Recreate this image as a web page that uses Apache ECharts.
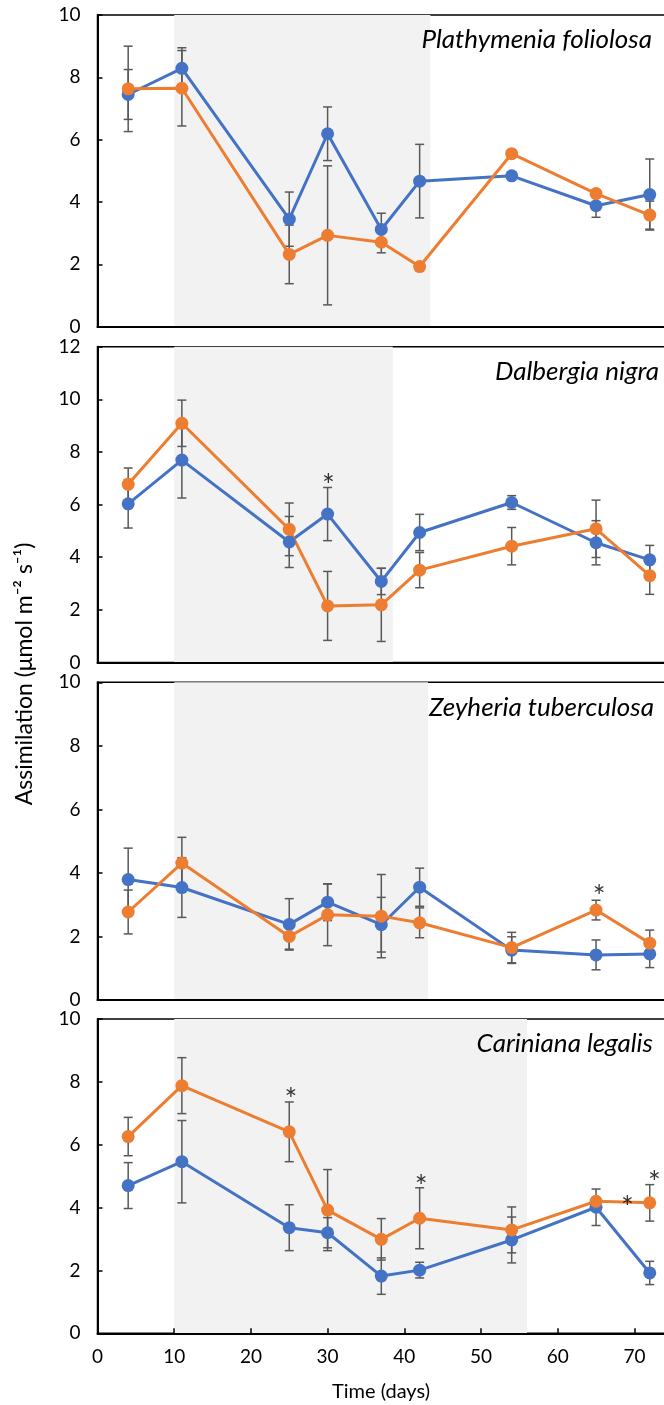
<!DOCTYPE html>
<html>
<head>
<meta charset="utf-8">
<script src="https://cdn.jsdelivr.net/npm/echarts@6/dist/echarts.min.js"></script>
<style>
  html, body { margin: 0; padding: 0; background: #fff; }
  #chart { width: 664px; height: 1405px; }
</style>
</head>
<body>
<div id="chart"></div>
<script>
// sampling days (x)
const days = [4, 11, 25, 30, 37, 42, 54, 65, 72];
const xTicks = [0, 10, 20, 30, 40, 50, 60, 70];

const species = ['Plathymenia foliolosa', 'Dalbergia nigra', 'Zeyheria tuberculosa', 'Cariniana legalis'];
const yMax = [10, 12, 10, 10];
const shadeStart = [10, 10, 10, 10];
const shadeEnd = [43.4, 38.5, 43.1, 56];

// Plathymenia foliolosa
const blue1 = [7.45, 8.29, 3.45, 6.19, 3.12, 4.67, 4.84, 3.88, 4.24];
const blueErr1 = [0.80, 0.66, 0.87, 0.86, 0.52, 1.18, 0.10, 0.37, 1.14];
const orange1 = [7.63, 7.65, 2.32, 2.93, 2.71, 1.93, 5.55, 4.27, 3.58];
const orangeErr1 = [1.37, 1.21, 0.94, 2.23, 0.34, 0.10, 0.10, 0.12, 0.45];
const stars1 = [];

// Dalbergia nigra
const blue2 = [6.03, 7.69, 4.58, 5.64, 3.08, 4.94, 6.08, 4.55, 3.90];
const blueErr2 = [0.92, 1.44, 0.97, 1.01, 0.50, 0.69, 0.26, 0.84, 0.55];
const orange2 = [6.77, 9.09, 5.06, 2.15, 2.19, 3.51, 4.42, 5.08, 3.30];
const orangeErr2 = [0.62, 0.88, 1.00, 1.31, 1.39, 0.67, 0.71, 1.09, 0.71];
const stars2 = [[30.1, 6.97]];

// Zeyheria tuberculosa
const blue3 = [3.79, 3.54, 2.38, 3.08, 2.37, 3.55, 1.57, 1.42, 1.45];
const blueErr3 = [0.99, 0.94, 0.81, 0.58, 0.86, 0.60, 0.42, 0.47, 0.43];
const orange3 = [2.77, 4.31, 2.00, 2.68, 2.64, 2.43, 1.65, 2.83, 1.79];
const orangeErr3 = [0.69, 0.81, 0.40, 0.97, 1.31, 0.47, 0.48, 0.31, 0.41];
const stars3 = [[65.4, 3.44]];

// Cariniana legalis
const blue4 = [4.70, 5.46, 3.36, 3.20, 1.82, 2.01, 2.97, 4.01, 1.92];
const blueErr4 = [0.73, 1.31, 0.73, 0.48, 0.58, 0.25, 0.73, 0.58, 0.37];
const orange4 = [6.26, 7.88, 6.41, 3.92, 2.99, 3.66, 3.29, 4.20, 4.15];
const orangeErr4 = [0.61, 0.89, 0.95, 1.29, 0.66, 0.97, 0.73, 0.10, 0.58];
const stars4 = [[25.2, 7.65], [42.2, 4.88], [69.1, 4.19], [72.6, 4.98]];

const panels = [
  { blue: blue1, blueErr: blueErr1, orange: orange1, orangeErr: orangeErr1, stars: stars1 },
  { blue: blue2, blueErr: blueErr2, orange: orange2, orangeErr: orangeErr2, stars: stars2 },
  { blue: blue3, blueErr: blueErr3, orange: orange3, orangeErr: orangeErr3, stars: stars3 },
  { blue: blue4, blueErr: blueErr4, orange: orange4, orangeErr: orangeErr4, stars: stars4 }
];

const BLUE = '#4472C4';
const ORANGE = '#ED7D31';
const FONT = 'Lato';

const gridTops = [15, 346.7, 682.3, 1019];
const gridHeights = [311.7, 315.8, 317.7, 314.3];
const titleRights = [7, 0, 5, 6];

function errorBars() {
  return function (params, api) {
    const x = api.value(0);
    const m = api.value(1);
    const e = api.value(2);
    const top = api.coord([x, m + e]);
    const bot = api.coord([x, m - e]);
    const style = { stroke: '#595959', lineWidth: 1.5 };
    const cap = 4.5;
    return {
      type: 'group',
      children: [
        { type: 'line', shape: { x1: top[0], y1: top[1], x2: bot[0], y2: bot[1] }, style: style },
        { type: 'line', shape: { x1: top[0] - cap, y1: top[1], x2: top[0] + cap, y2: top[1] }, style: style },
        { type: 'line', shape: { x1: bot[0] - cap, y1: bot[1], x2: bot[0] + cap, y2: bot[1] }, style: style }
      ]
    };
  };
}

const grid = [], xAxis = [], yAxis = [], series = [], title = [];

panels.forEach((p, i) => {
  const last = i === panels.length - 1;
  grid.push({
    left: 97.5, top: gridTops[i], width: 613.6, height: gridHeights[i],
    outerBoundsMode: 'none', containLabel: false,
    show: true, borderColor: '#000', borderWidth: 1.5, backgroundColor: 'transparent'
  });
  xAxis.push({
    gridIndex: i, type: 'value', min: 0, max: 80, interval: 10, z: 3,
    axisLine: { show: true, onZero: false, lineStyle: { color: '#000', width: 2 } },
    axisTick: { show: last, inside: true, length: 5, lineStyle: { color: '#000', width: 1.5 } },
    axisLabel: { show: last, margin: 14, fontSize: 19, fontFamily: FONT, color: '#000' },
    splitLine: { show: false }
  });
  yAxis.push({
    gridIndex: i, type: 'value', min: 0, max: yMax[i], interval: 2, z: 3,
    axisLine: { show: true, lineStyle: { color: '#000', width: 2 } },
    axisTick: { show: true, inside: true, length: 5, lineStyle: { color: '#000', width: 1.5 } },
    axisLabel: { margin: 17, fontSize: 19, fontFamily: FONT, color: '#000' },
    splitLine: { show: false }
  });
  title.push({
    text: species[i], right: titleRights[i], top: gridTops[i] + 7,
    textStyle: { fontFamily: FONT, fontStyle: 'italic', fontWeight: 'normal', fontSize: 26, color: '#000' }
  });

  series.push({
    type: 'custom', xAxisIndex: i, yAxisIndex: i, z: 1, silent: true,
    renderItem: errorBars(),
    data: days.map((d, k) => [d, p.blue[k], p.blueErr[k]]),
    markArea: {
      silent: true,
      itemStyle: { color: '#F2F2F2' },
      data: [[{ xAxis: shadeStart[i] }, { xAxis: shadeEnd[i] }]]
    }
  });
  series.push({
    type: 'custom', xAxisIndex: i, yAxisIndex: i, z: 1, silent: true,
    renderItem: errorBars(),
    data: days.map((d, k) => [d, p.orange[k], p.orangeErr[k]])
  });
  series.push({
    name: 'Series 1', type: 'line', xAxisIndex: i, yAxisIndex: i, z: 2,
    data: days.map((d, k) => [d, p.blue[k]]),
    symbol: 'circle', symbolSize: 13,
    lineStyle: { color: BLUE, width: 3 },
    itemStyle: { color: BLUE }
  });
  series.push({
    name: 'Series 2', type: 'line', xAxisIndex: i, yAxisIndex: i, z: 2,
    data: days.map((d, k) => [d, p.orange[k]]),
    symbol: 'circle', symbolSize: 13,
    lineStyle: { color: ORANGE, width: 3 },
    itemStyle: { color: ORANGE }
  });
  series.push({
    type: 'scatter', xAxisIndex: i, yAxisIndex: i, z: 4, silent: true,
    data: p.stars,
    symbolSize: 1,
    itemStyle: { color: 'transparent' },
    label: {
      show: true, position: 'inside', formatter: '*', offset: [0, 7],
      fontSize: 30, fontFamily: FONT, color: '#000'
    }
  });
});

const chart = echarts.init(document.getElementById('chart'));
chart.setOption({
  animation: false,
  backgroundColor: '#fff',
  title: title,
  grid: grid,
  xAxis: xAxis,
  yAxis: yAxis,
  series: series,
  graphic: [
    {
      type: 'text', x: 25, y: 674, rotation: Math.PI / 2,
      style: {
        text: 'Assimilation (μmol m\u207B\u00B2 s\u207B\u00B9)',
        fontFamily: FONT, fontSize: 23, fill: '#000',
        textAlign: 'center', textVerticalAlign: 'middle'
      }
    },
    {
      type: 'text', x: 381, y: 1392,
      style: {
        text: 'Time (days)', fontFamily: FONT, fontSize: 20, fill: '#000',
        textAlign: 'center', textVerticalAlign: 'middle'
      }
    }
  ]
});
</script>
</body>
</html>
